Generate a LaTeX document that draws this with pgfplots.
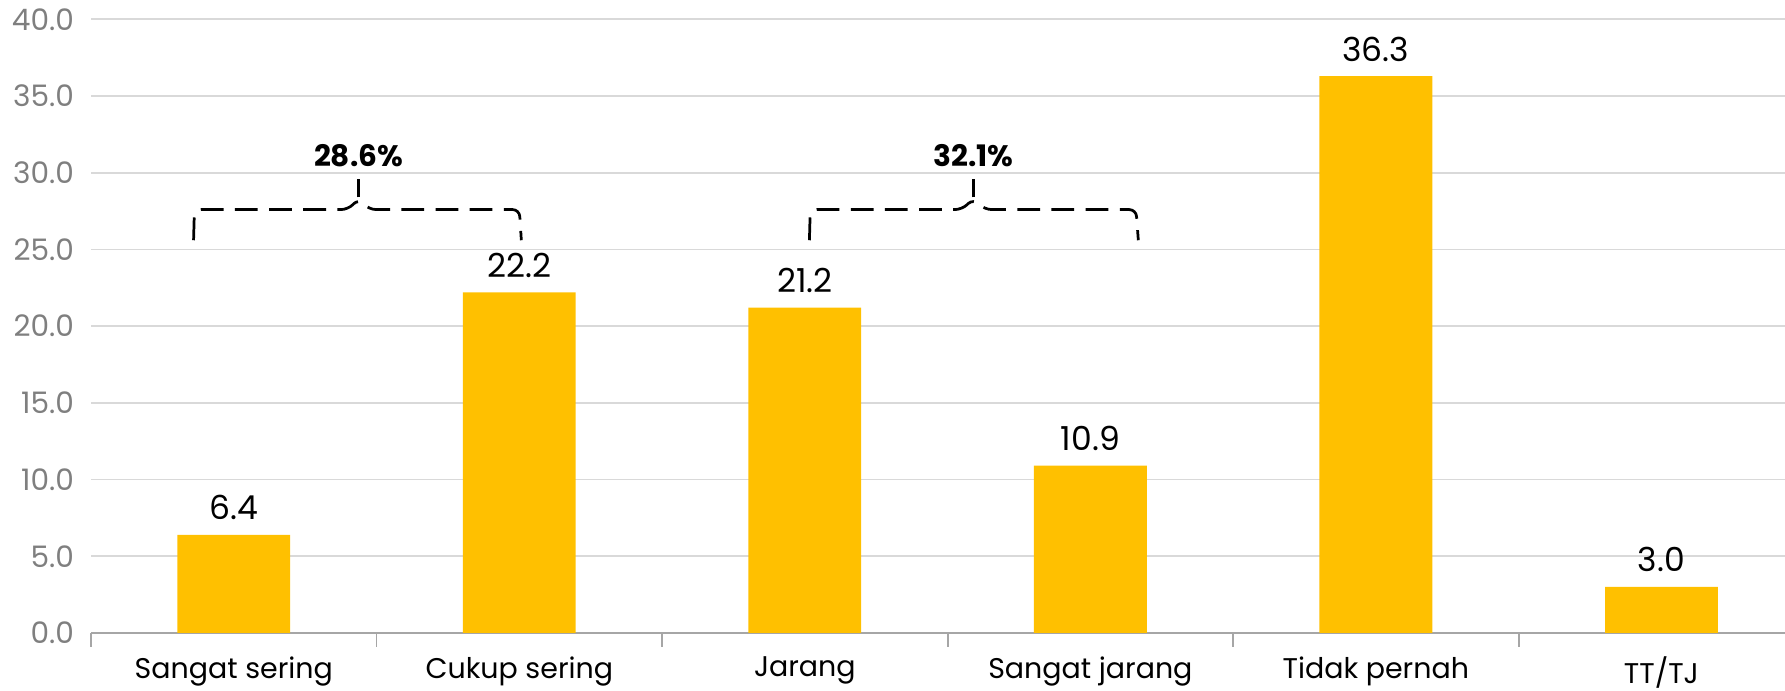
\documentclass[border=0pt]{standalone}
\usepackage{fontspec}
\setmainfont{Poppins}
\usepackage{pgfplots}
\pgfplotsset{compat=1.18}
\definecolor{bargold}{HTML}{FFC000}
\definecolor{gridgray}{HTML}{D9D9D9}
\definecolor{ticktext}{HTML}{7F7F7F}
\begin{document}
\begin{tikzpicture}
\begin{axis}[
  scale only axis,
  width=744pt, height=269.5pt,
  xmin=-0.5, xmax=5.433,
  ymin=0, ymax=40,
  ytick={0,5,...,40},
  ymajorgrids,
  grid style={gridgray, line width=0.8pt},
  axis x line*=bottom,
  axis y line*=left,
  y axis line style={draw=none},
  x axis line style={draw=gray!70, line width=0.8pt},
  xtick={0,1,2,3,4,5},
  xticklabels={Sangat sering, Cukup sering, Jarang, Sangat jarang, Tidak pernah, TT/TJ},
  minor xtick={-0.5,0.5,1.5,2.5,3.5,4.5},
  major tick length=0pt,
  minor tick length=6pt,
  xtick align=outside,
  minor tick style={gray!70, line width=0.8pt},
  xticklabel style={font=\fontsize{12.5}{14}\selectfont, text=black, yshift=-7pt},
  yticklabel style={font=\fontsize{13}{15}\selectfont, text=ticktext, xshift=-4pt},
  /pgf/number format/assume math mode=true,
  yticklabel={\pgfmathprintnumber[fixed, fixed zerofill, precision=1]{\tick}},
  nodes near coords,
  nodes near coords style={font=\fontsize{14.5}{16}\selectfont, text=black, yshift=3pt, /pgf/number format/.cd, fixed, fixed zerofill, precision=1, assume math mode=true},
  clip=false,
]
\addplot[ybar, bar width=0.395, fill=bargold, draw=none] coordinates {
  (0,6.4) (1,22.2) (2,21.2) (3,10.9) (4,36.3) (5,3.0)
};
\coordinate (O) at (rel axis cs:0,0);
\coordinate (T) at (rel axis cs:1,1);
% brace annotations
\draw[black, line width=1.2pt, dash pattern=on 10pt off 5pt, rounded corners=3pt]
  (axis cs:-0.141,25.6) -- (axis cs:-0.138,27.6) -- (axis cs:0.40,27.6) -- (axis cs:0.437,28.3) -- (axis cs:0.474,27.6) -- (axis cs:1.0,27.6) -- (axis cs:1.007,25.6);
\draw[black, line width=1.2pt] (axis cs:0.437,28.4) -- (axis cs:0.437,29.6);
\node[font=\bfseries\fontsize{13}{15}\selectfont, anchor=base] at (axis cs:0.437,30.4) {28.6\%};
\draw[black, line width=1.2pt, dash pattern=on 10pt off 5pt, rounded corners=3pt]
  (axis cs:2.016,25.6) -- (axis cs:2.019,27.6) -- (axis cs:2.55,27.6) -- (axis cs:2.59,28.3) -- (axis cs:2.63,27.6) -- (axis cs:3.16,27.6) -- (axis cs:3.168,25.6);
\draw[black, line width=1.2pt] (axis cs:2.59,28.4) -- (axis cs:2.59,29.6);
\node[font=\bfseries\fontsize{13}{15}\selectfont, anchor=base] at (axis cs:2.59,30.4) {32.1\%};
\end{axis}
\pgfresetboundingbox
\path ([xshift=-40pt,yshift=-25.5pt]O) rectangle ([yshift=8.5pt]T);
\end{tikzpicture}
\end{document}
